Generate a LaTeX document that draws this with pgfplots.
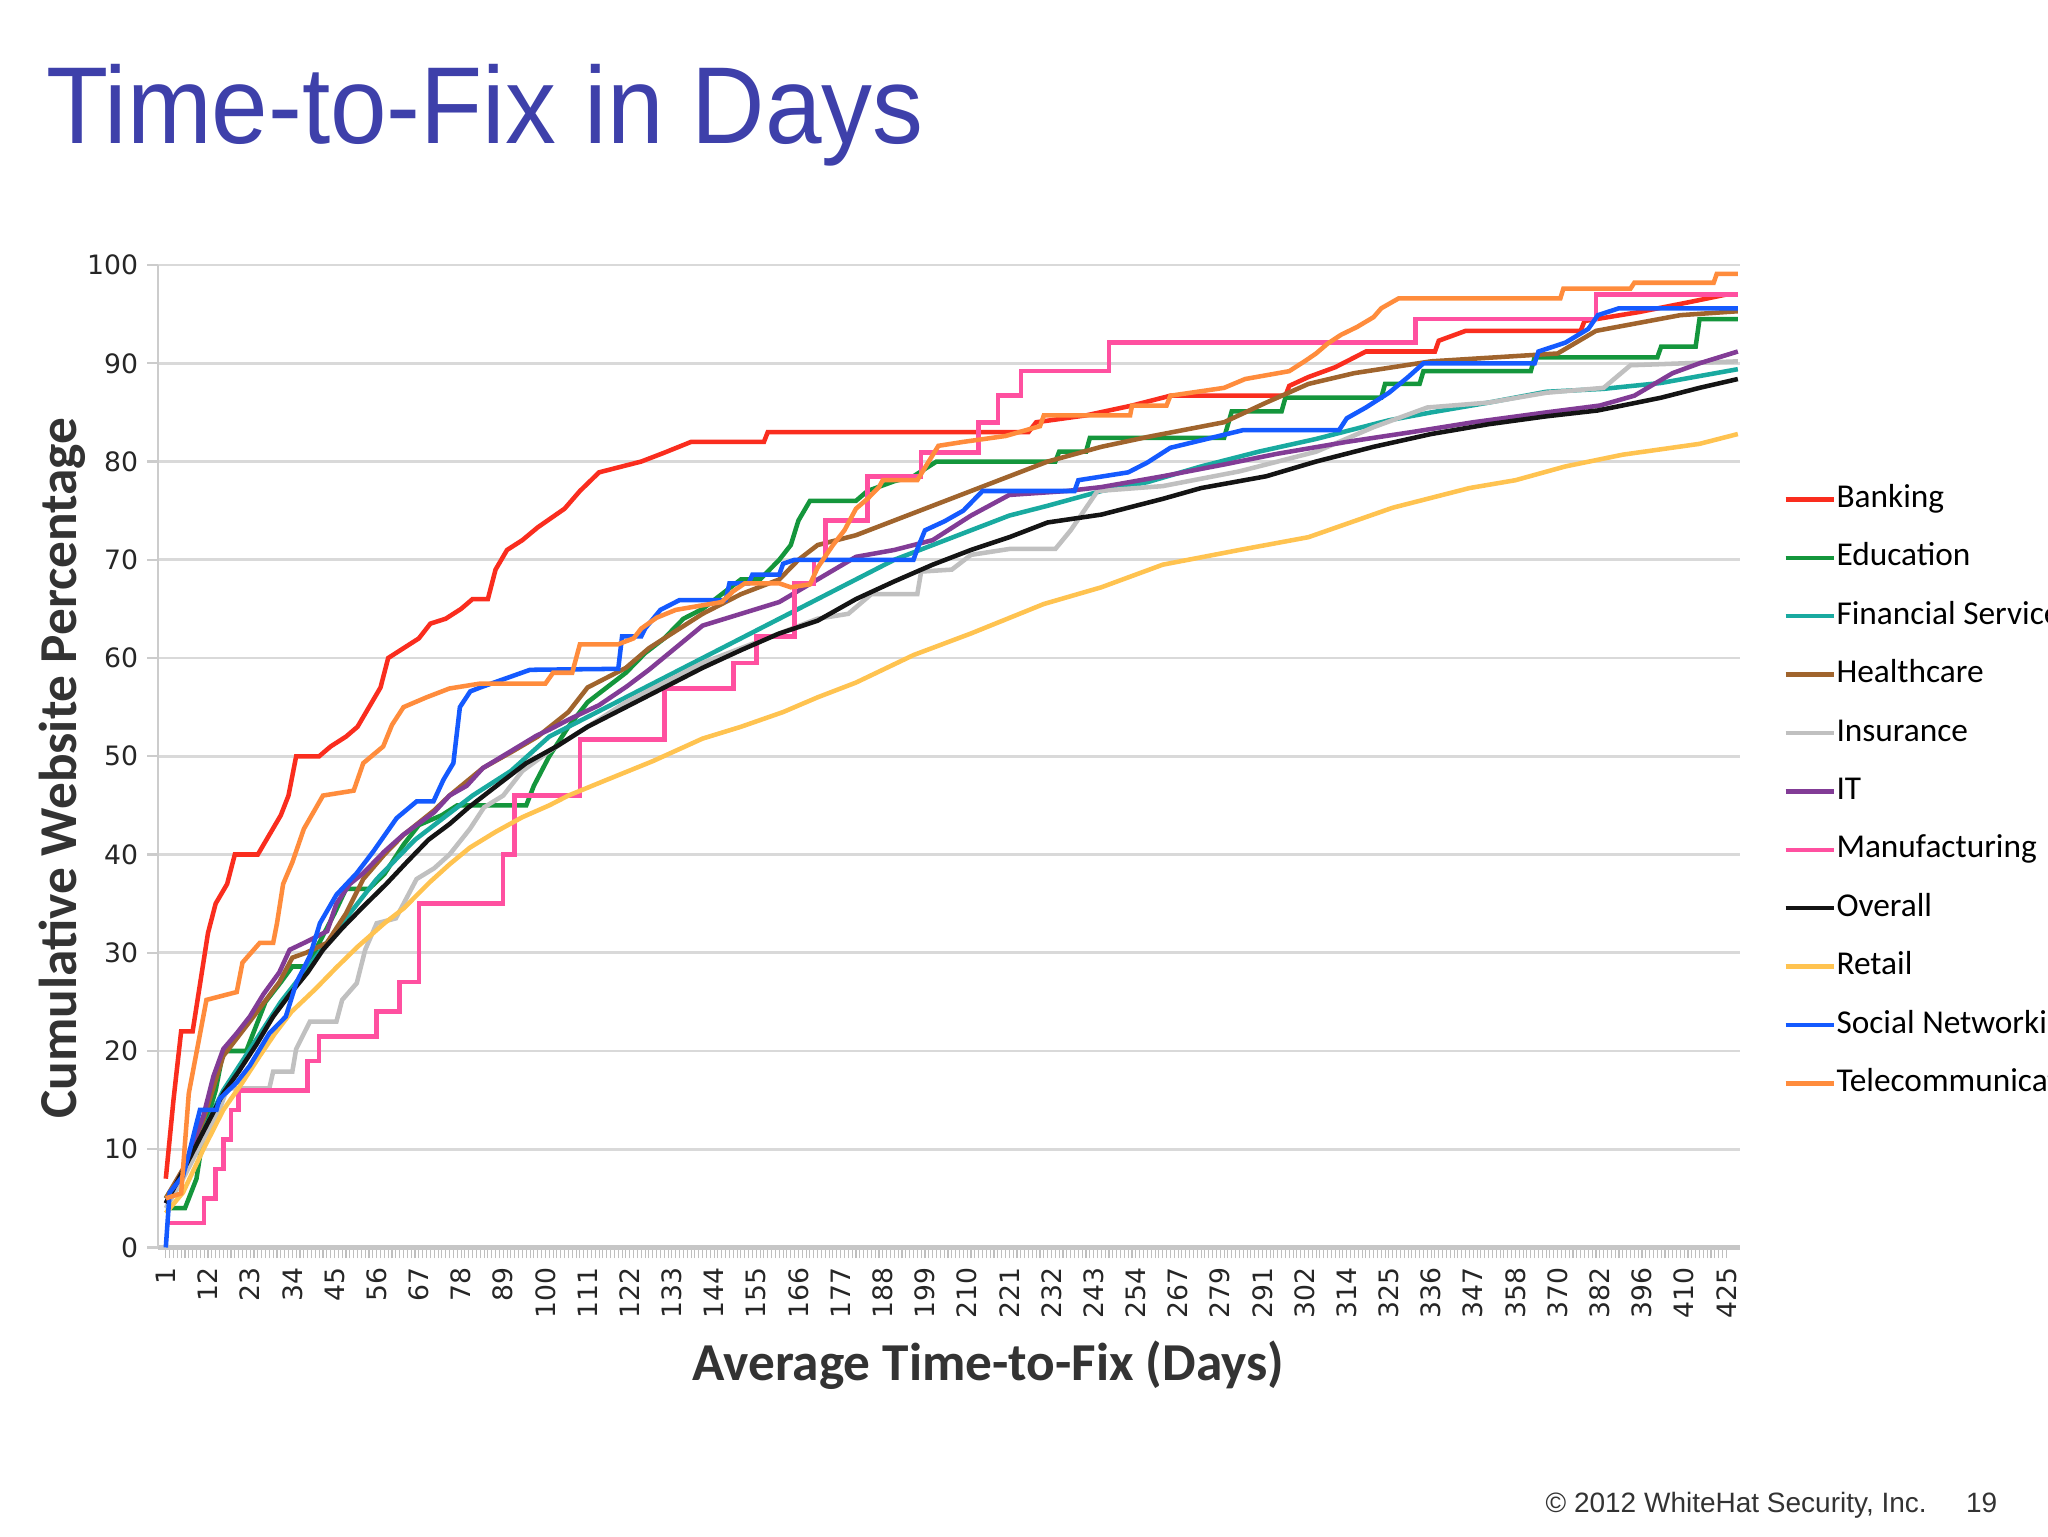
\documentclass[border=0pt]{standalone}
\usepackage{pgfplots}
\pgfplotsset{compat=1.18}
\usepackage{fontspec}
\usepackage{graphicx}
\setmainfont{Liberation Sans}
\newfontfamily\carlito{Carlito}
\newfontfamily\dejavu{DejaVu Sans}

\definecolor{titleblue}{RGB}{62,64,170}
\definecolor{cBank}{RGB}{250,45,30}
\definecolor{cEdu}{RGB}{20,150,60}
\definecolor{cFin}{RGB}{25,170,160}
\definecolor{cHealth}{RGB}{160,100,45}
\definecolor{cIns}{RGB}{192,192,192}
\definecolor{cIT}{RGB}{130,60,150}
\definecolor{cManu}{RGB}{255,80,160}
\definecolor{cAll}{RGB}{20,20,20}
\definecolor{cRetail}{RGB}{255,195,80}
\definecolor{cSocial}{RGB}{20,90,255}
\definecolor{cTele}{RGB}{255,140,60}

\begin{document}
\begin{tikzpicture}
\useasboundingbox (0,0) rectangle (768pt,576pt);
\fill[white] (0,0) rectangle (768pt,576pt);

% slide title
\node[anchor=base west, inner sep=0pt, text=titleblue, font=\fontsize{41}{41}\selectfont]
  at (17.1pt,522.1pt) {\scalebox{0.93}[1]{Time-to-Fix in Days}};

\begin{axis}[
  at={(59.3pt,108.2pt)}, anchor=south west,
  width=593.1pt, height=368.4pt, scale only axis,
  xmin=-2, xmax=410.5, ymin=0, ymax=100,
  axis x line*=bottom, axis y line*=left,
  x axis line style={draw=gray!45, line width=1.6pt},
  y axis line style={draw=gray!40, line width=0.8pt},
  xtick={0,11,...,407},
  xticklabels={1,12,23,34,45,56,67,78,89,100,111,122,133,144,155,166,177,188,199,210,221,232,243,254,267,279,291,302,314,325,336,347,358,370,382,396,410,425},
  minor x tick num=10,
  tick align=outside,
  major tick length=4pt, minor tick length=4pt,
  xtick style={draw=gray!50, line width=0.4pt},
  ytick={0,10,...,100},
  ytick style={draw=gray!40, line width=0.8pt},
  ymajorgrids, grid style={draw=gray!30, line width=1pt},
  tick label style={font=\dejavu\fontsize{10}{12}\selectfont, text=black!85},
  xticklabel style={rotate=90, anchor=east},
  /pgf/number format/assume math mode=true,
  xlabel={Average Time-to-Fix (Days)},
  xlabel style={at={(axis description cs:0.525,-0.1194)}, anchor=center,
    font=\carlito\bfseries\fontsize{20}{24}\selectfont, text=black!80},
  ylabel={Cumulative Website Percentage},
  ylabel style={at={(axis description cs:-0.0604,0.488)}, anchor=center,
    font=\carlito\bfseries\fontsize{20}{24}\selectfont, text=black!80},
  legend style={at={(axis description cs:1.0273,0.781)}, anchor=north west,
    draw=none, fill=none, inner sep=0pt, row sep=7.9pt,
    font=\carlito\fontsize{12.5}{14}\selectfont,
    nodes={inner xsep=0.3pt, inner ysep=1pt, text height=9pt, text depth=3pt}},
  legend cell align=left,
  legend image code/.code={\draw[#1, line width=1.6pt] (0pt,0pt) -- (18pt,0pt);},
  every axis plot/.append style={line width=1.7pt},
]

\addplot[color=cBank] coordinates {
(0,7)(2,15)(4,22)(7,22)(9,27)(11,32)(13,35)(16,37)(18,40)(24,40)(27,42)(30,44)
(32,46)(34,50)(40,50)(43,51)(47,52)(50,53)(53,55)(56,57)(58,60)(62,61)(66,62)
(69,63.5)(73,64)(77,65)(80,66)(84,66)(86,69)(89,71)(93,72)(97,73.3)(104,75.2)
(108,77)(113,78.9)(124,80)(130,80.9)(137,82)(156,82)(157,83)(225,83)(227,84)
(240,84.7)(252,85.7)(262,86.7)(292,86.7)(293,87.7)(298,88.6)(305,89.6)(313,91.2)
(331,91.2)(332,92.3)(339,93.3)(369,93.3)(370,94.3)(384,95.2)(397,96.2)(407,97)(410,97)};
\addlegendentry{Banking}

\addplot[color=cEdu] coordinates {
(0,4)(5,4)(8,7)(10,12)(13,16)(15,20)(21,20)(23,22)(26,25)(30,27)(33,28.6)(37,28.6)
(40,31)(44,34)(47,36.5)(53,36.5)(57,38)(62,41)(66,43)(72,44)(76,45)(94,45)(96,47)
(100,50)(105,53)(110,55.5)(115,57)(120,58.5)(125,60.5)(130,62)(135,64)(140,65)
(145,66.5)(150,68)(155,68)(160,70)(163,71.5)(165,74)(168,76)(180,76)(183,77)
(190,78)(195,78.5)(201,80)(232,80)(233,81)(240,81)(241,82.4)(276,82.4)(278,85.1)
(291,85.1)(292,86.5)(317,86.5)(318,87.9)(327,87.9)(328,89.2)(356,89.2)(357,90.6)
(389,90.6)(390,91.7)(399,91.7)(400,94.5)(410,94.5)};
\addlegendentry{Education}

\addplot[color=cFin] coordinates {
(0,5)(5,8)(10,12)(15,16)(20,19)(25,22)(30,25)(35,27.5)(40,30)(45,32.5)(50,35)
(55,37.5)(60,39.5)(65,41.5)(70,43)(75,44.5)(80,46)(90,48.5)(100,52)(110,54)
(120,56)(130,58)(140,60)(150,62)(160,64)(170,66)(180,68)(190,70)(200,71.5)
(210,73)(220,74.5)(230,75.5)(244,77)(256,77.9)(270,79.5)(285,81)(300,82.3)
(319,84.2)(330,85)(345,86)(360,87.1)(375,87.4)(390,88)(400,88.7)(410,89.4)};
\addlegendentry{Financial Services}

\addplot[color=cHealth] coordinates {
(0,5)(4.5,8)(9.8,13)(15,19.5)(21.9,23)(29.6,27)(33,29.5)(36.6,30)(42,31)(47,34)
(51.5,37.5)(57,40)(62,42)(70,44.5)(74,46)(82.7,48.8)(90,50.4)(97,52)(105,54.5)
(110,57)(120,59)(126,61)(132,62.5)(140,64.5)(150,66.5)(160,68)(165,70)(170,71.5)
(180,72.5)(190,74)(200,75.5)(210,77)(220,78.5)(230,80)(244,81.5)(256,82.5)
(276,84)(287,86)(298,87.9)(310,89)(330,90.2)(363,91)(373,93.3)(395,94.9)(410,95.3)};
\addlegendentry{Healthcare}

\addplot[color=cIns] coordinates {
(0,4)(4.5,7)(9.8,11)(14,14)(16,16.2)(27,16.2)(28,17.9)(33,17.9)(34,20.2)(37.6,23)
(44.5,23)(46,25.2)(49.8,26.9)(52,30.3)(55,33)(60,33.5)(65.4,37.5)(70,38.6)(74,40)
(79.3,42.6)(83,44.8)(88,46)(93,48.5)(100,50.5)(110,53)(120,55.5)(130,57.5)
(140,59.5)(150,61)(160,62.5)(170,64)(178,64.5)(184,66.5)(196,66.5)(197,68.8)
(205,69)(210,70.5)(220,71.1)(232,71.1)(236,73)(243,77)(260,77.5)(280,79)(300,81)
(315,83.5)(329,85.5)(345,86)(360,87)(375,87.5)(382,89.8)(410,90.2)};
\addlegendentry{Insurance}

\addplot[color=cIT] coordinates {
(0,4.5)(4.5,7.8)(9.8,13.4)(12.4,17.4)(15,20.2)(18.5,21.8)(21.9,23.5)(25.5,25.8)
(29.6,28)(32.3,30.3)(36.6,31.1)(42.1,32.2)(44.5,35)(48,37)(51.5,38.1)(57,40.3)
(61.9,42)(70,44.3)(74,46)(78.5,47)(82.7,48.8)(89.5,50.4)(96.7,52.1)(100,52.7)
(105.4,53.8)(113,55.2)(120.2,57.1)(126,58.8)(140,63.3)(150,64.5)(160,65.7)(170,68)
(180,70.3)(190,71)(200,72)(210,74.5)(220,76.6)(235,77)(244,77.4)(260,78.5)
(276,79.7)(290,80.8)(308,82)(325,83)(341,84)(360,85)(374,85.7)(383,86.7)(393,89)
(400,90)(410,91.2)};
\addlegendentry{IT}

\addplot[color=cManu, const plot] coordinates {
(0,2.5)(10,5)(13,8)(15,11)(17,14)(19,16)(37,19)(40,21.5)(55,24)(61,27)(66,35)
(88,40)(91,46)(108,51.7)(130,56.9)(148,59.5)(154,62.2)(164,67.6)(169,70)(172,74)
(183,78.5)(197,80.9)(212,84)(217,86.7)(223,89.2)(246,92.1)(326,94.5)(373,97)(410,97)};
\addlegendentry{Manufacturing}

\addplot[color=cAll] coordinates {
(0,4.5)(4.5,7.8)(9.8,11.8)(15,15.7)(19,17.9)(23.7,20.7)(28,23.5)(32.4,25.8)(37,28)
(41,30.3)(46,32.5)(51.5,34.7)(57.5,37)(62.8,39.2)(68.5,41.5)(74,43.1)(79,44.8)
(86.3,47)(94,49.3)(101.9,51)(110,53)(120,55)(130,57)(140,59)(150,60.8)(160,62.5)
(170,63.8)(180,66)(190,67.8)(200,69.5)(210,71)(220,72.3)(230,73.8)(244,74.6)
(260,76.2)(270,77.3)(287,78.5)(300,80)(315,81.5)(330,82.8)(345,83.8)(360,84.6)
(373.5,85.2)(390,86.5)(400,87.5)(410,88.4)};
\addlegendentry{Overall}

\addplot[color=cRetail] coordinates {
(0,3.5)(4.5,5.6)(9.8,10)(15,14)(20,16.8)(24.5,19.5)(28.5,21.8)(32.8,24)(39,26.3)
(44.5,28.5)(50,30.6)(57,33)(62,34.5)(68.9,37.2)(74,39)(79.3,40.7)(86,42.3)(93,43.8)
(100,45)(105,46)(115,47.6)(127,49.5)(140,51.8)(150,53)(161,54.5)(170,56)(180,57.5)
(195,60.3)(210,62.5)(229,65.5)(244,67.2)(260,69.5)(280,71)(298,72.3)(320,75.3)
(340,77.3)(352,78.1)(365,79.5)(380,80.7)(400,81.8)(410,82.8)};
\addlegendentry{Retail}

\addplot[color=cSocial] coordinates {
(0,0)(1,5.6)(4.5,7.3)(6,9.5)(8.9,14)(13.2,14)(14,15.1)(18.5,16.8)(21.9,18.5)
(27,21.8)(31.3,23.5)(34,26.9)(37.6,29.7)(40.2,33)(44.5,35.9)(49.8,38.1)(54.1,40.3)
(60.2,43.7)(65.4,45.4)(69.8,45.4)(72.4,47.6)(75,49.3)(76.7,55)(79.4,56.6)(82,57)
(95,58.8)(118,58.9)(119,62.2)(124,62.2)(125,63)(129,64.9)(134,65.9)(146,65.9)
(147,67.6)(152,67.6)(153,68.5)(160,68.5)(161,69.6)(164,70)(195,70)(196,71.1)
(198,73)(203,73.9)(208,75)(213,77)(237,77)(238,78.1)(251,78.9)(256,79.9)(262,81.4)
(281,83.2)(306,83.2)(308,84.4)(313,85.5)(319,87)(324,88.6)(328,90)(357,90)
(358,91.2)(365,92.1)(371,93.5)(373.5,94.9)(379,95.6)(410,95.6)};
\addlegendentry{Social Networking}

\addplot[color=cTele] coordinates {
(0,5)(4,5.5)(6,15.7)(10.6,25.2)(18.5,26)(20,29)(24.5,31)(28,31)(29,33)(30.6,37)
(33,39.2)(36,42.6)(41,46)(49,46.5)(51.5,49.3)(56.7,51)(59,53.2)(62,55)(68,56)
(74,56.9)(82,57.4)(99,57.4)(101,58.5)(106,58.5)(108,61.4)(118,61.4)(122,62)(124,63)
(128,64.1)(133,64.9)(145,65.7)(148,66.8)(151,67.6)(160,67.6)(163,67.2)(168,67.5)
(170,69.2)(174,71.5)(177,73)(180,75.2)(183,76.2)(186,77.4)(187,78.1)(196,78.1)
(198.5,79.7)(201.5,81.6)(208,82)(219,82.6)(228,83.6)(229,84.7)(251.5,84.7)
(252,85.7)(261,85.7)(262,86.7)(276,87.5)(281.5,88.4)(293,89.2)(297,90.2)(300,91)
(303,92)(306.5,92.9)(310.7,93.7)(315,94.7)(317,95.6)(321.5,96.6)(363.7,96.6)
(364.5,97.6)(382,97.6)(383,98.2)(403.7,98.2)(404.5,99.1)(410,99.1)};
\addlegendentry{Telecommunications}

\end{axis}

% footer
\node[anchor=base west, inner sep=0pt, text=black!80, font=\fontsize{10.5}{12}\selectfont]
  at (579.4pt,8.8pt) {© 2012 WhiteHat Security, Inc.};
\node[anchor=base west, inner sep=0pt, text=black!80, font=\fontsize{10.5}{12}\selectfont]
  at (737.1pt,8.8pt) {19};
\end{tikzpicture}
\end{document}
